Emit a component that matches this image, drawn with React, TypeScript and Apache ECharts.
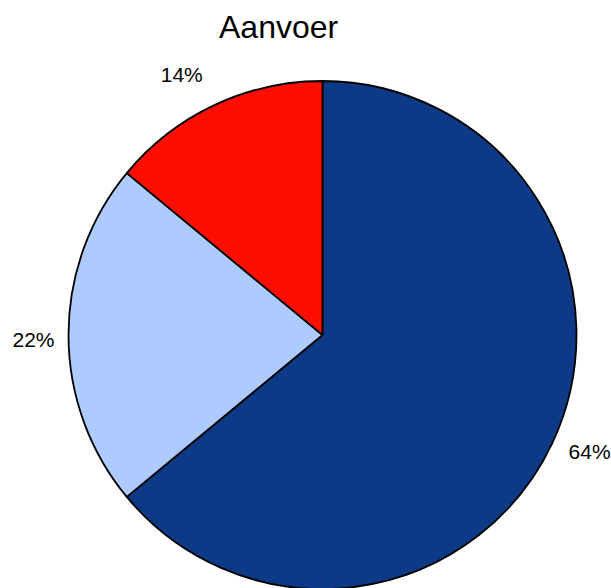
import React, { useEffect, useRef } from "react";
import * as echarts from "echarts";

const categories = ["A", "B", "C"];
const values = [64, 22, 14];
const colors = ["#0c3a87", "#adcbff", "#ff0d00"];
const labelOffsets: [number, number][] = [[2, -8], [4, 4], [-16, 5]];
const titleText = "Aanvoer";

export default function App() {
  const ref = useRef<HTMLDivElement>(null);
  useEffect(() => {
    const chart = echarts.init(ref.current!, null, { renderer: "svg" });
    const font = "'Liberation Sans', Arial, sans-serif";
    chart.setOption({
      animation: false,
      backgroundColor: "#ffffff",
      title: {
        text: titleText,
        left: 214,
        top: 6,
        textStyle: { fontFamily: font, fontSize: 32, fontWeight: "normal", color: "#000" },
      },
      series: [
        {
          type: "pie",
          center: [322.5, 335],
          radius: [0, 254],
          startAngle: 90,
          clockwise: true,
          silent: true,
          label: { show: false },
          labelLine: { show: false },
          itemStyle: { borderColor: "#000", borderWidth: 1.8 },
          data: categories.map((c, i) => ({
            name: c,
            value: values[i],
            itemStyle: { color: colors[i] },
          })),
        },
        {
          type: "pie",
          center: [322.5, 335],
          radius: [0, 580],
          startAngle: 90,
          clockwise: true,
          silent: true,
          z: 5,
          itemStyle: { color: "rgba(0,0,0,0)", borderWidth: 0 },
          labelLine: { show: false },
          label: {
            show: true,
            position: "inside",
            formatter: (p: any) => p.value + "%",
            fontFamily: font,
            fontSize: 21,
            color: "#000",
          },
          data: categories.map((c, i) => ({
            name: c,
            value: values[i],
            label: { offset: labelOffsets[i] },
          })),
        },
      ],
    });
    return () => chart.dispose();
  }, []);
  return (
    <div
      ref={ref}
      style={{ position: "absolute", left: 0, top: 0, width: 611, height: 588 }}
    />
  );
}
